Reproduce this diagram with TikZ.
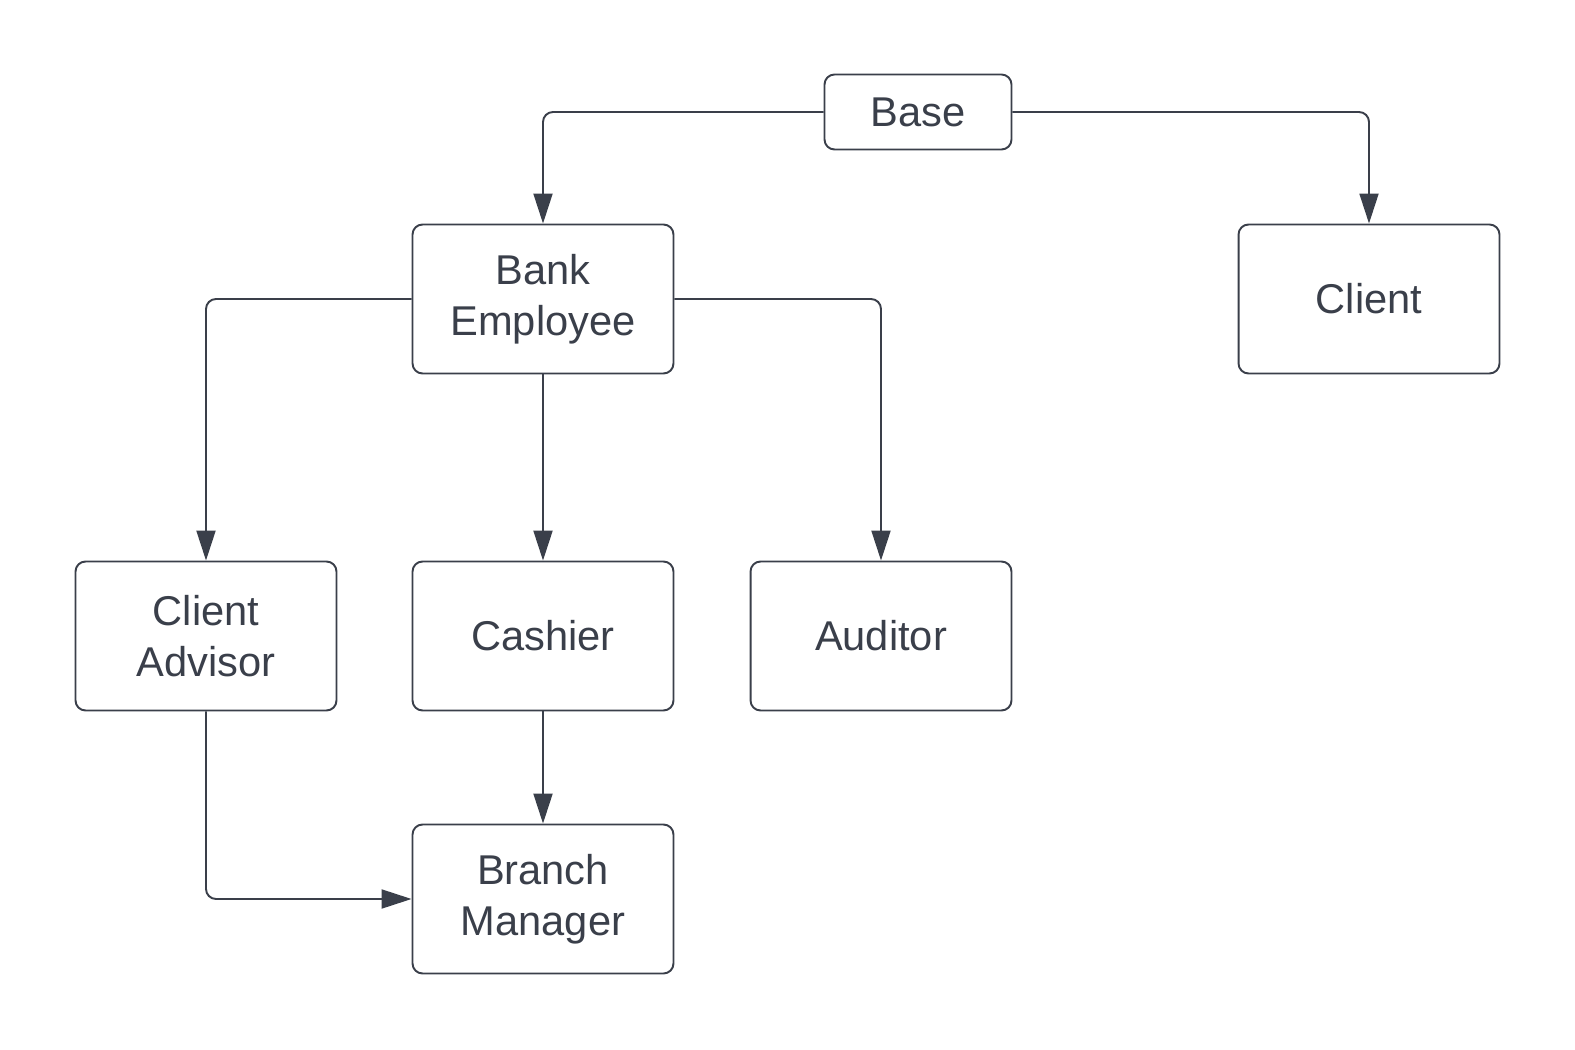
\documentclass[tikz,border=0pt]{standalone}
\usepackage{fontspec}
\setmainfont{Liberation Sans}
\usetikzlibrary{positioning,arrows.meta}
\definecolor{ink}{HTML}{3A3F4A}

\begin{document}
\begin{tikzpicture}[x=0.02cm, y=-0.02cm,
    every node/.style={font=\fontsize{23.7}{28.8}\selectfont, text=ink},
    box/.style={draw=ink, line width=1.1pt, rounded corners=0.2cm,
      minimum width=5.22cm, minimum height=2.98cm, align=center},
    link/.style={draw=ink, line width=1.1pt, rounded corners=0.2cm,
      -{Triangle[length=0.6cm, width=0.38cm]}}]
  %----- frame -----
  \useasboundingbox (0,0) rectangle (1575,1050);

  %----- boxes -----
  \node[box, minimum width=3.74cm, minimum height=1.5cm] (base) at (918,112) {Base};
  \node[box] (bank)    at (543,299)  {Bank\\Employee};
  \node[box] (client)  at (1369,299) {Client};
  \node[box] (advisor) at (206,636)  {Client\\Advisor};
  \node[box] (cashier) at (543,636)  {Cashier};
  \node[box] (auditor) at (881,636)  {Auditor};
  \node[box] (branch)  at (543,899)  {Branch\\Manager};

  %----- links -----
  \draw[link] (base.west) -| (bank.north);
  \draw[link] (base.east) -| (client.north);
  \draw[link] (bank.west) -| (advisor.north);
  \draw[link] (bank.south) -- (cashier.north);
  \draw[link] (bank.east) -| (auditor.north);
  \draw[link] (cashier.south) -- (branch.north);
  \draw[link] (advisor.south) |- (branch.west);
\end{tikzpicture}
\end{document}
